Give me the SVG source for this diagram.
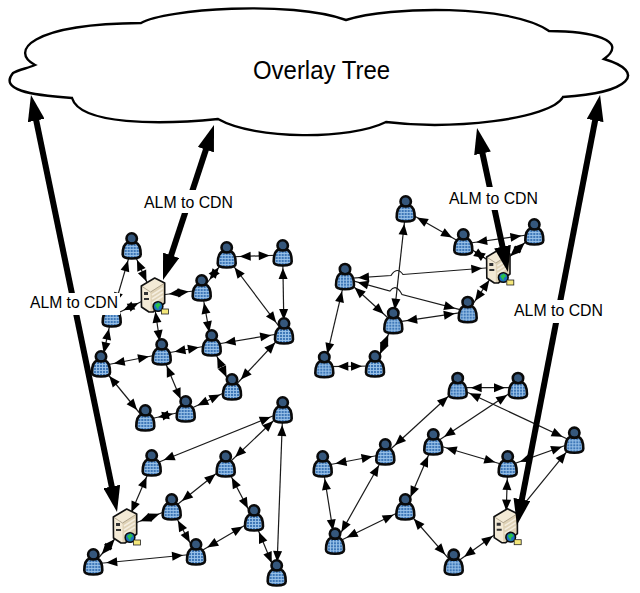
<svg xmlns="http://www.w3.org/2000/svg" width="640" height="593" viewBox="0 0 640 593">
<style>
.e{fill:none;stroke:#1a1a1a;stroke-width:1.2;marker-start:url(#a);marker-end:url(#a)}
.s{marker-start:url(#as)}
.b{fill:none;stroke:#000;stroke-width:6;marker-start:url(#big);marker-end:url(#big)}
.l{font-family:"Liberation Sans",Arial,sans-serif;font-size:16px;fill:#000}
.m{fill:#fff}
</style>
<defs>
<marker id="a" viewBox="0 0 26 9" markerWidth="26" markerHeight="9" refX="24" refY="4.5" orient="auto-start-reverse" markerUnits="userSpaceOnUse" overflow="visible"><path d="M0,0L11,4.5L0,9Z" fill="#000"/></marker>
<marker id="as" viewBox="0 0 26 9" markerWidth="26" markerHeight="9" refX="27" refY="4.5" orient="auto-start-reverse" markerUnits="userSpaceOnUse" overflow="visible"><path d="M0,0L11,4.5L0,9Z" fill="#000"/></marker>
<marker id="big" viewBox="0 0 26 17" markerWidth="26" markerHeight="17" refX="10" refY="8.5" orient="auto-start-reverse" markerUnits="userSpaceOnUse"><path d="M0,0L26,8.5L0,17Z" fill="#000"/></marker>
<pattern id="plaid" width="3" height="3" patternUnits="userSpaceOnUse"><rect width="3" height="3" fill="#3f78b8"/><path d="M1.5,0V3M0,1.5H3" stroke="#9cc4ea" stroke-width=".9"/></pattern>
<g id="p">
<circle cx="0" cy="-9.5" r="5.2" fill="#35577c" stroke="#0a0a0a" stroke-width="2.6"/>
<path d="M-4,-5.5C-8,-4 -9,1 -9,6.5C-9,9.5 -5,10.5 0,10.5C5,10.5 9,9.5 9,6.5C9,1 8,-4 4,-5.5C2,-4.2 -2,-4.2 -4,-5.5Z" fill="url(#plaid)" stroke="#0a0a0a" stroke-width="2.6" stroke-linejoin="round"/>
</g>
<g id="srv">
<path d="M-11.7,-10L1.7,-18L11.7,-13L11.7,7L0,16L-4,16L-11.5,11Z" fill="#f3ead6"/>
<path d="M-2.5,-4L11.7,-13L11.7,7L0,16L-2.5,16Z" fill="#dfd2b6"/>
<path d="M-1,-1L10,-8M-1,3L10,-4M-1,7L10,0" stroke="#f5eedf" stroke-width="1.5"/>
<path d="M-11.7,-10L-2.5,-4L11.7,-13" fill="none" stroke="#8a7d66" stroke-width=".6"/>
<path d="M-9,-4h4v3h-4zM-9,2h5v2h-5z" fill="#333"/>
<path d="M-11.7,-10L1.7,-18L11.7,-13L11.7,7L0,16L-4,16L-11.5,11Z" fill="none" stroke="#111" stroke-width="1.6" stroke-linejoin="round"/>
<circle cx="5" cy="10.5" r="4.8" fill="#1c6fc0" stroke="#0a0a0a" stroke-width="1.6"/>
<path d="M2,9l3.5,-2.5l2.5,2.5l-2.5,2l0,3l-2,-2.5z" fill="#29c14a"/>
<rect x="8.5" y="13" width="7" height="5" fill="#f4e77a" stroke="#222" stroke-width=".8"/>
</g>
</defs>
<rect width="640" height="593" fill="#fff"/>
<g id="cloud">
<path d="M35,65C10,52 28,24 141,23C165,9 290,0 346,20C390,6 510,4 549,31C590,31 630,40 604,59C648,72 630,93 563,97C550,120 450,130 386,122C350,140 255,140 218,119C160,125 80,125 72,98C30,95 -1,90 13,73C18,70 28,68 35,65Z" fill="#fff" stroke="#000" stroke-width="2.4"/>
<text x="253" y="79" font-family="'Liberation Sans',Arial,sans-serif" font-size="26" textLength="137" lengthAdjust="spacingAndGlyphs">Overlay Tree</text>
</g>
<g id="connectors">
<line class="e s" x1="153" y1="296" x2="131.7" y2="248"/>
<line class="e" x1="131.7" y1="248" x2="111.7" y2="316"/>
<line class="e s" x1="153" y1="296" x2="201.7" y2="290"/>
<line class="e s" x1="153" y1="296" x2="111.7" y2="316"/>
<line class="e s" x1="153" y1="296" x2="161.7" y2="354"/>
<line class="e" x1="201.7" y1="290" x2="226.7" y2="257"/>
<line class="e" x1="201.7" y1="290" x2="211.7" y2="345"/>
<line class="e" x1="226.7" y1="257" x2="282.7" y2="255"/>
<line class="e" x1="226.7" y1="257" x2="284" y2="333"/>
<line class="e" x1="282.7" y1="255" x2="284" y2="333"/>
<line class="e" x1="284" y1="333" x2="211.7" y2="345"/>
<line class="e" x1="284" y1="333" x2="232" y2="389"/>
<line class="e" x1="211.7" y1="345" x2="161.7" y2="354"/>
<line class="e" x1="211.7" y1="345" x2="232" y2="389"/>
<line class="e" x1="161.7" y1="354" x2="101" y2="366"/>
<line class="e" x1="161.7" y1="354" x2="185.7" y2="411"/>
<line class="e" x1="101" y1="366" x2="111.7" y2="316"/>
<line class="e" x1="101" y1="366" x2="145.3" y2="420"/>
<line class="e" x1="232" y1="389" x2="185.7" y2="411"/>
<line class="e" x1="185.7" y1="411" x2="145.3" y2="420"/>
<line class="e" x1="282.7" y1="412" x2="151.7" y2="465"/>
<line class="e" x1="282.7" y1="412" x2="225.7" y2="466"/>
<line class="e" x1="282.7" y1="412" x2="276.7" y2="575"/>
<line class="e s" x1="125" y1="527" x2="151.7" y2="465"/>
<line class="e" x1="225.7" y1="466" x2="171.7" y2="509"/>
<line class="e" x1="225.7" y1="466" x2="254" y2="520"/>
<line class="e s" x1="125" y1="527" x2="171.7" y2="509"/>
<line class="e" x1="171.7" y1="509" x2="196" y2="554"/>
<line class="e" x1="254" y1="520" x2="196" y2="554"/>
<line class="e" x1="254" y1="520" x2="276.7" y2="575"/>
<line class="e s" x1="125" y1="527" x2="93.3" y2="564"/>
<line class="e" x1="196" y1="554" x2="93.3" y2="564"/>
<line class="e" x1="405.7" y1="211" x2="463.3" y2="244"/>
<line class="e" x1="405.7" y1="211" x2="393.3" y2="322.7"/>
<line class="e" x1="463.3" y1="244" x2="534.3" y2="234"/>
<line class="e s" x1="498.3" y1="267" x2="463.3" y2="244"/>
<line class="e s" x1="498.3" y1="267" x2="534.3" y2="234"/>
<path class="e s" d="M498.3,267L403,274.5Q397,266 391,275.5L345,278.7"/>
<line class="e s" x1="498.3" y1="267" x2="467.7" y2="311.7"/>
<path class="e" d="M345,278.7L390,291Q396,283 402,294.5L467.7,311.7"/>
<line class="e" x1="345" y1="278.7" x2="393.3" y2="322.7"/>
<line class="e" x1="345" y1="278.7" x2="324.3" y2="366.7"/>
<line class="e" x1="467.7" y1="311.7" x2="393.3" y2="322.7"/>
<line class="e" x1="393.3" y1="322.7" x2="375" y2="366"/>
<line class="e" x1="324.3" y1="366.7" x2="375" y2="366"/>
<line class="e" x1="457.7" y1="387.7" x2="518" y2="387.7"/>
<line class="e" x1="457.7" y1="387.7" x2="574.3" y2="442.3"/>
<line class="e" x1="457.7" y1="387.7" x2="385.3" y2="454"/>
<line class="e" x1="518" y1="387.7" x2="433.3" y2="444"/>
<line class="e" x1="574.3" y1="442.3" x2="507.7" y2="466"/>
<line class="e s" x1="505.7" y1="526.7" x2="574.3" y2="442.3"/>
<line class="e" x1="433.3" y1="444" x2="507.7" y2="466"/>
<line class="e" x1="433.3" y1="444" x2="405.3" y2="509"/>
<line class="e" x1="385.3" y1="454" x2="322.7" y2="466"/>
<line class="e" x1="385.3" y1="454" x2="335" y2="543.3"/>
<line class="e" x1="322.7" y1="466" x2="335" y2="543.3"/>
<line class="e" x1="405.3" y1="509" x2="335" y2="543.3"/>
<line class="e" x1="405.3" y1="509" x2="453.7" y2="564.3"/>
<line class="e s" x1="505.7" y1="526.7" x2="507.7" y2="466"/>
<line class="e s" x1="505.7" y1="526.7" x2="453.7" y2="564.3"/>
</g>
<g id="nodes">
<g id="a1"><use href="#p" x="131.7" y="248"/></g>
<g id="a2"><use href="#p" x="226.7" y="257"/></g>
<g id="a3"><use href="#p" x="282.7" y="255"/></g>
<g id="a4"><use href="#p" x="201.7" y="290"/></g>
<g id="a5"><use href="#p" x="111.7" y="316"/></g>
<g id="a6"><use href="#p" x="284" y="333"/></g>
<g id="a7"><use href="#p" x="211.7" y="345"/></g>
<g id="a8"><use href="#p" x="161.7" y="354"/></g>
<g id="a9"><use href="#p" x="101" y="366"/></g>
<g id="a10"><use href="#p" x="232" y="389"/></g>
<g id="a11"><use href="#p" x="185.7" y="411"/></g>
<g id="a12"><use href="#p" x="145.3" y="420"/></g>
<g id="server1"><use href="#srv" x="153" y="296"/></g>
<g id="b1"><use href="#p" x="282.7" y="412"/></g>
<g id="b2"><use href="#p" x="151.7" y="465"/></g>
<g id="b3"><use href="#p" x="225.7" y="466"/></g>
<g id="b4"><use href="#p" x="171.7" y="509"/></g>
<g id="b5"><use href="#p" x="254" y="520"/></g>
<g id="b6"><use href="#p" x="196" y="554"/></g>
<g id="b7"><use href="#p" x="93.3" y="564"/></g>
<g id="b8"><use href="#p" x="276.7" y="575"/></g>
<g id="server3"><use href="#srv" x="125" y="527"/></g>
<g id="c1"><use href="#p" x="405.7" y="211"/></g>
<g id="c2"><use href="#p" x="463.3" y="244"/></g>
<g id="c3"><use href="#p" x="534.3" y="234"/></g>
<g id="c4"><use href="#p" x="345" y="278.7"/></g>
<g id="c5"><use href="#p" x="467.7" y="311.7"/></g>
<g id="c6"><use href="#p" x="393.3" y="322.7"/></g>
<g id="c7"><use href="#p" x="324.3" y="366.7"/></g>
<g id="c8"><use href="#p" x="375" y="366"/></g>
<g id="server2"><use href="#srv" x="498.3" y="267"/></g>
<g id="d1"><use href="#p" x="457.7" y="387.7"/></g>
<g id="d2"><use href="#p" x="518" y="387.7"/></g>
<g id="d3"><use href="#p" x="574.3" y="442.3"/></g>
<g id="d4"><use href="#p" x="433.3" y="444"/></g>
<g id="d5"><use href="#p" x="385.3" y="454"/></g>
<g id="d6"><use href="#p" x="322.7" y="466"/></g>
<g id="d7"><use href="#p" x="507.7" y="466"/></g>
<g id="d8"><use href="#p" x="405.3" y="509"/></g>
<g id="d9"><use href="#p" x="335" y="543.3"/></g>
<g id="d10"><use href="#p" x="453.7" y="564.3"/></g>
<g id="server4"><use href="#srv" x="505.7" y="526.7"/></g>
</g>
<g id="cdn-links">
<line class="b" x1="34.2" y1="110.7" x2="113.8" y2="496.3"/>
<line class="b" x1="209" y1="140.2" x2="168" y2="264.8"/>
<line class="b" x1="480.4" y1="143.6" x2="504.6" y2="256.4"/>
<line class="b" x1="597" y1="110.7" x2="520" y2="509.3"/>
</g>
<g id="labels">
<rect class="m" x="28" y="293" width="92" height="22"/>
<text class="l" x="30" y="308" textLength="88" lengthAdjust="spacingAndGlyphs">ALM to CDN</text>
<rect class="m" x="142" y="190" width="93" height="23"/>
<text class="l" x="144" y="208" textLength="89" lengthAdjust="spacingAndGlyphs">ALM to CDN</text>
<rect class="m" x="447" y="187" width="93" height="23"/>
<text class="l" x="449" y="204" textLength="89" lengthAdjust="spacingAndGlyphs">ALM to CDN</text>
<rect class="m" x="512" y="300" width="93" height="23"/>
<text class="l" x="514" y="316" textLength="89" lengthAdjust="spacingAndGlyphs">ALM to CDN</text>
</g>
</svg>
